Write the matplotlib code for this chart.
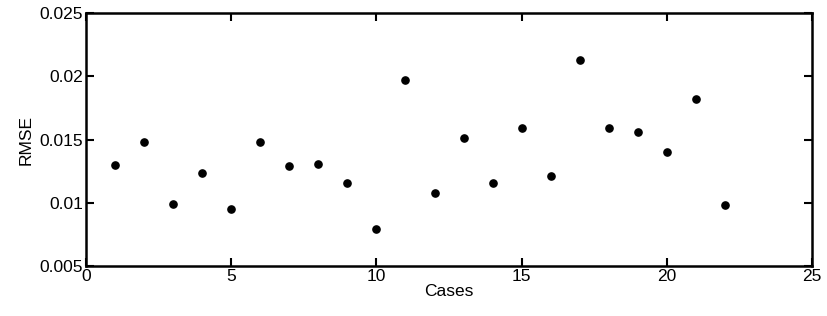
import matplotlib
matplotlib.use('Agg')
import matplotlib.pyplot as plt

plt.rcParams['font.family'] = ['Liberation Sans', 'DejaVu Sans']

cases = list(range(1, 23))
rmse = [0.0130, 0.0148, 0.0099, 0.0124, 0.0095, 0.0148, 0.0129, 0.0131,
        0.0116, 0.0079, 0.0197, 0.0108, 0.0151, 0.0116, 0.0159, 0.0121,
        0.0213, 0.0159, 0.0156, 0.0140, 0.0182, 0.0098]

fig = plt.figure(figsize=(8.27, 3.16), dpi=100)
ax = fig.add_axes([0.104, 0.158, 0.878, 0.8])
ax.plot(cases, rmse, 'o', color='black', markersize=5.2, linestyle='none')

ax.set_xlim(0, 25)
ax.set_ylim(0.005, 0.025)
ax.set_xticks([0, 5, 10, 15, 20, 25])
ax.set_yticks([0.005, 0.01, 0.015, 0.02, 0.025])
ax.set_yticklabels(['0.005', '0.01', '0.015', '0.02', '0.025'])
ax.tick_params(direction='in', top=True, right=True, length=6, width=1.5,
               labelsize=12.5, pad=2)
for s in ax.spines.values():
    s.set_linewidth(1.8)
ax.set_xlabel('Cases', fontsize=12.5, labelpad=0)
ax.set_ylabel('RMSE', fontsize=12.5, labelpad=4)

fig.savefig('out.png', dpi=100)
